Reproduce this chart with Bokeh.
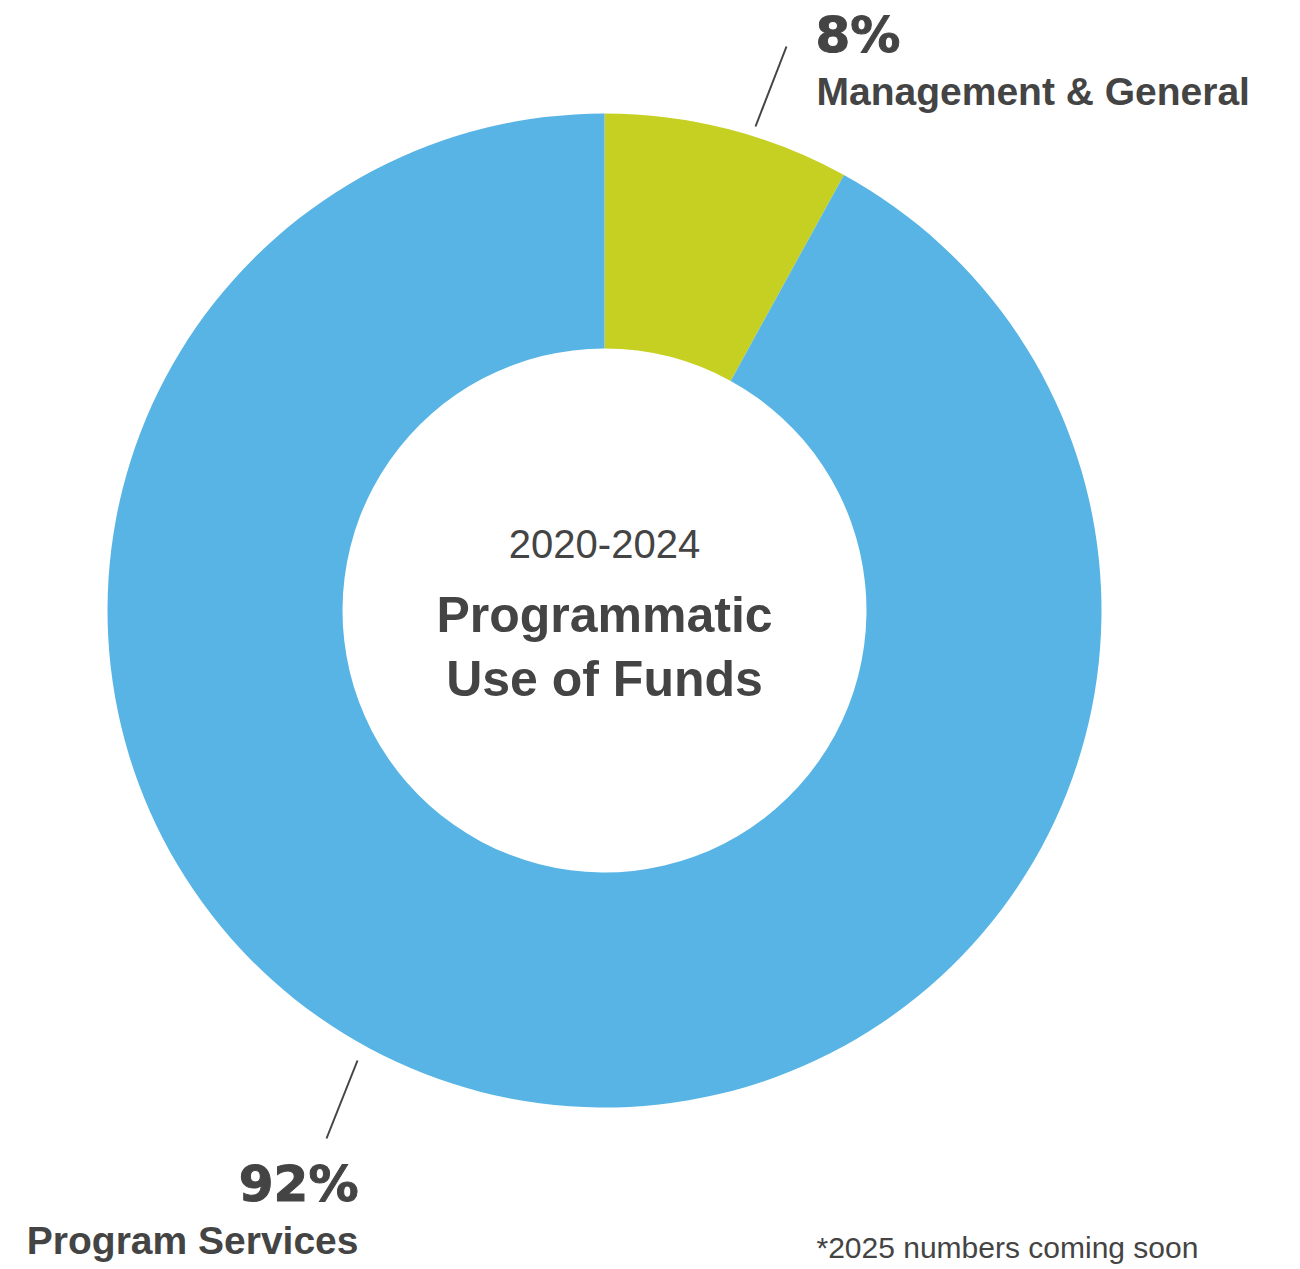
import math
from bokeh.plotting import figure
from bokeh.models import ColumnDataSource, Range1d
from bokeh.core.properties import value
from bokeh.embed import file_html
from bokeh.resources import INLINE

# ---- data ----
categories = ["Management & General", "Program Services"]
percents = [8, 92]
colors = ["#C5D022", "#57B4E5"]
center_year = "2020-2024"
center_title = ["Programmatic", "Use of Funds"]
footnote = "*2025 numbers coming soon"

W, H = 1300, 1269
p = figure(width=W, height=H, x_range=Range1d(0, W), y_range=Range1d(0, H),
           output_backend="svg", toolbar_location=None, min_border=0)
p.axis.visible = False
p.grid.visible = False
p.outline_line_color = None
p.background_fill_color = "white"
p.border_fill_color = "white"

cx, cy = 604, H - 610
r_in, r_out = 262, 497

total = sum(percents)
starts, ends = [], []
acc = 0.0
for v in percents:
    a0 = math.pi / 2 - 2 * math.pi * acc / total
    acc += v
    a1 = math.pi / 2 - 2 * math.pi * acc / total
    starts.append(a0)
    ends.append(a1)

src = ColumnDataSource(dict(x=[cx] * len(percents), y=[cy] * len(percents),
                            start=starts, end=ends, color=colors, cat=categories))
p.annular_wedge(x="x", y="y", inner_radius=r_in, outer_radius=r_out,
                start_angle="start", end_angle="end", direction="clock",
                fill_color="color", line_color=None, source=src)

TXT = "#444444"
SANS = value("Liberation Sans")
HEAVY = value("DejaVu Sans")
K = 0.37  # baseline compensation

def txt(x, py, s, size, font, style, align, heavy=False):
    kw = {}
    if heavy:
        kw["text_outline_color"] = TXT
    p.text(x=[x], y=[H - py + K * size], text=[s], text_font=font, text_font_style=style,
           text_font_size=f"{size}px", text_color=TXT, text_align=align,
           text_baseline="alphabetic", **kw)

# leader lines
p.line([755, 786], [H - 126, H - 46], line_color="#444444", line_width=2)
p.line([357, 326], [H - 1060, H - 1138], line_color="#444444", line_width=2)

# labels
txt(815, 53, f"{percents[0]}%", 50, HEAVY, "bold", "left", heavy=True)
txt(816, 105, categories[0], 39, SANS, "bold", "left")
txt(358, 1202, f"{percents[1]}%", 50, HEAVY, "bold", "right", heavy=True)
txt(358, 1254, categories[1], 39, SANS, "bold", "right")

# center
txt(cx, 558, center_year, 40, SANS, "normal", "center")
txt(cx, 633, center_title[0], 50, SANS, "bold", "center")
txt(cx, 697, center_title[1], 50, SANS, "bold", "center")

# footnote
txt(816, 1258, footnote, 30, SANS, "normal", "left")

open("out.html", "w").write(file_html(p, INLINE))
